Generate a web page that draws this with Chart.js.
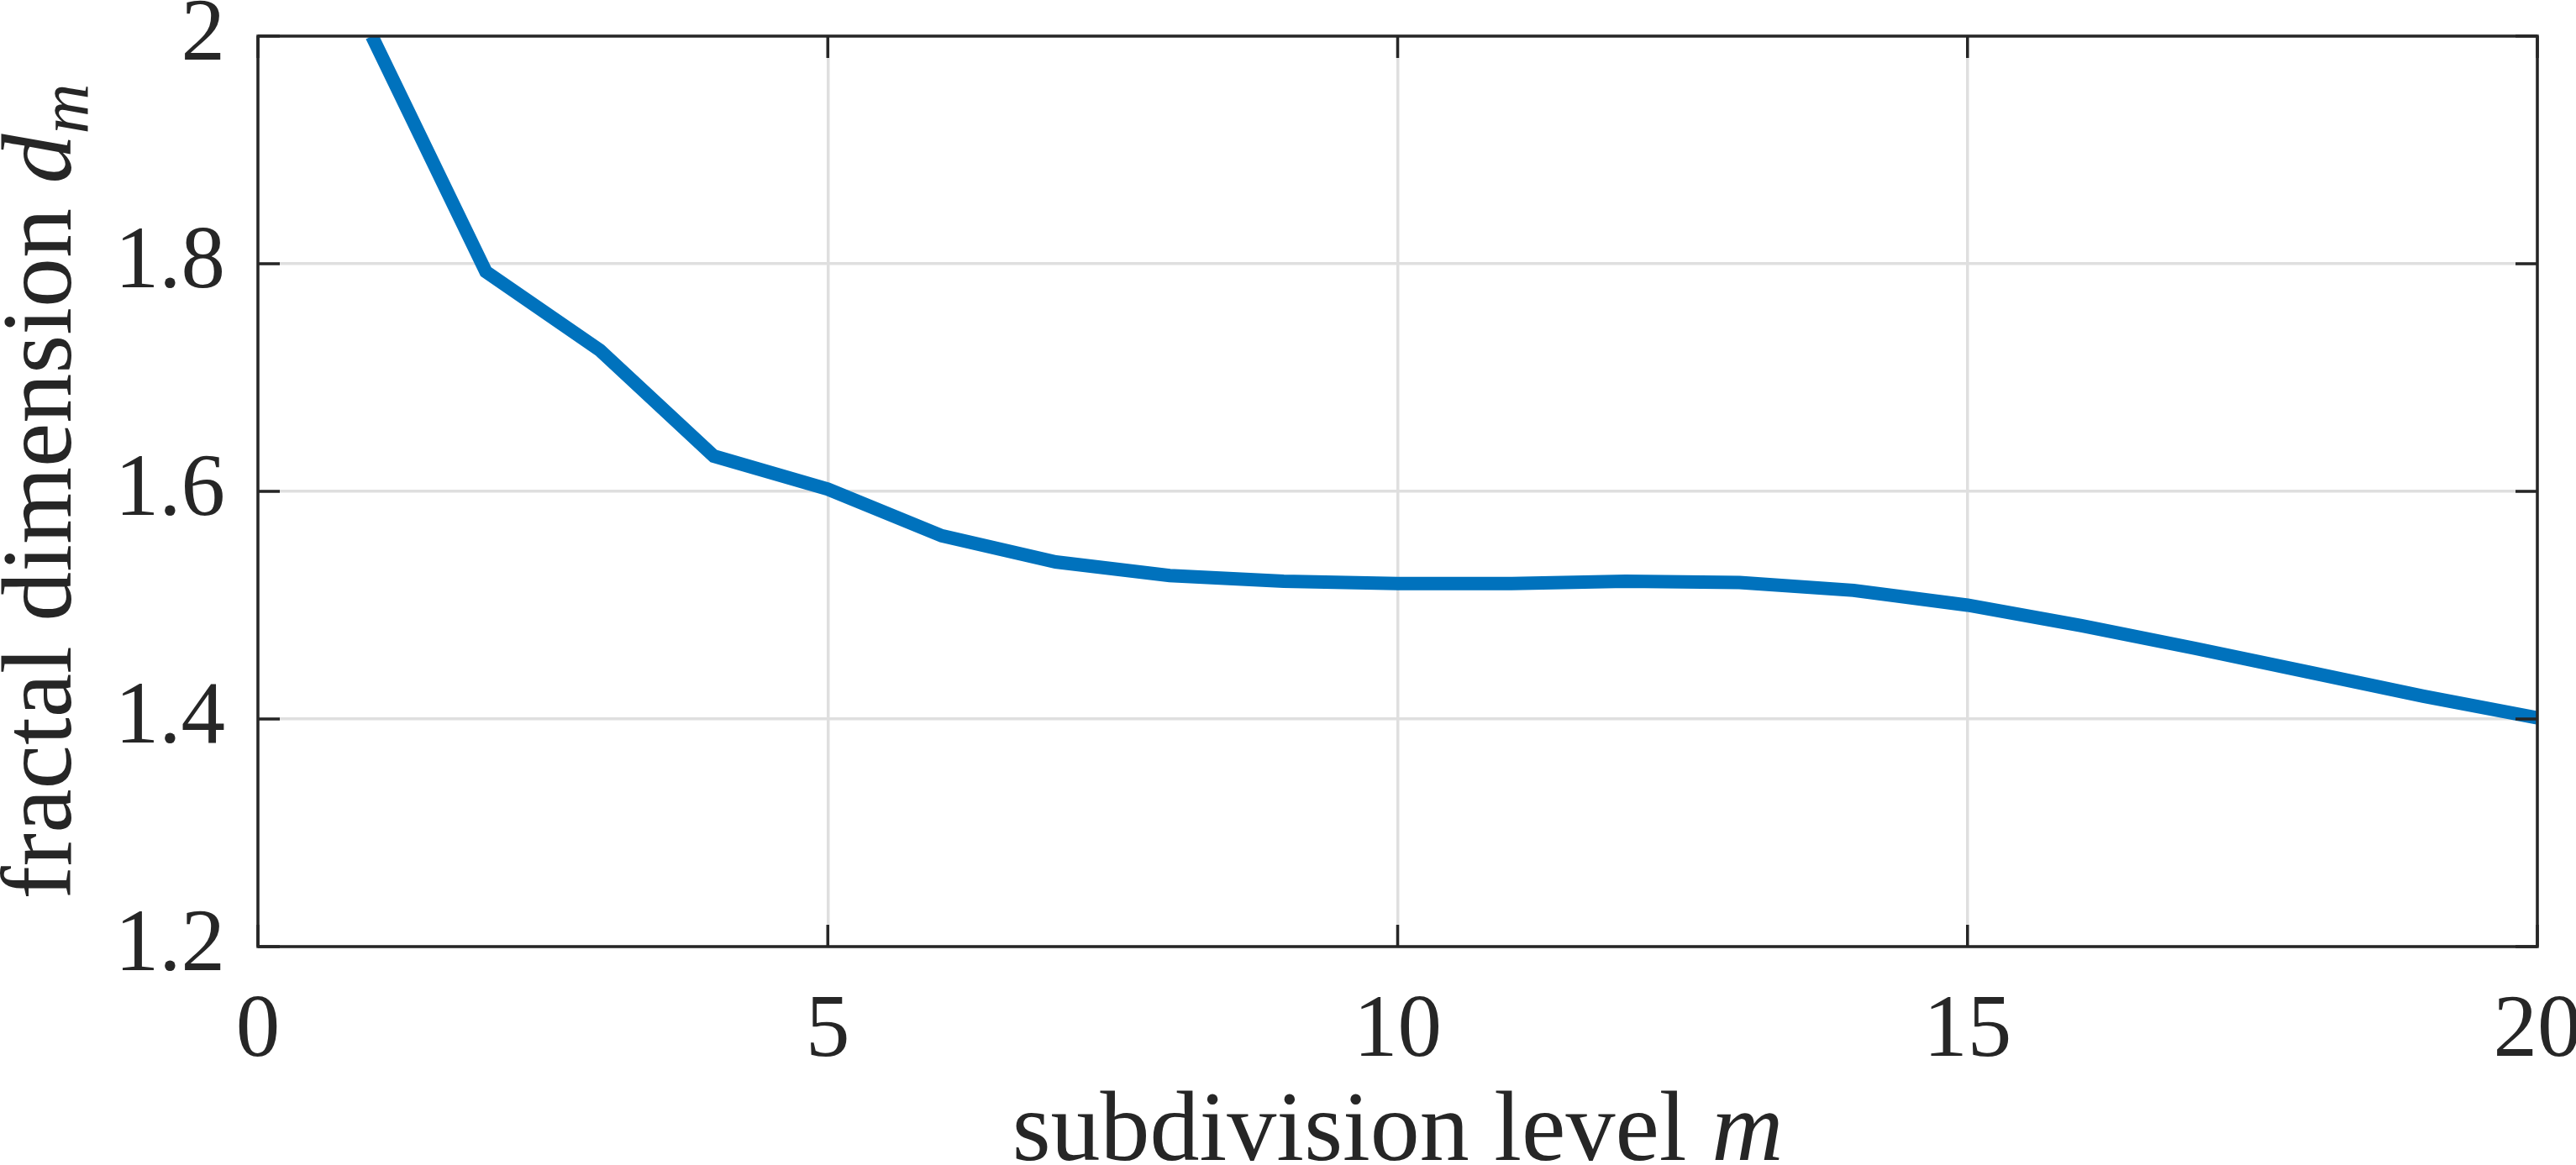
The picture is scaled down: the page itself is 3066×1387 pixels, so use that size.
<!DOCTYPE html>
<html>
<head>
<meta charset="utf-8">
<script src="https://cdn.jsdelivr.net/npm/chart.js@4.4.1/dist/chart.umd.min.js"></script>
<style>
  html, body { margin: 0; padding: 0; background: #ffffff; }
  #c { display: block; }
</style>
</head>
<body>
<canvas id="c" width="3066" height="1387" style="width:3066px;height:1387px"></canvas>
<script>
// ---- data ----
const levels = [1, 2, 3, 4, 5, 6, 7, 8, 9, 10, 11, 12, 13, 14, 15, 16, 17, 18, 19, 20];
const dimension = [2.000, 1.793, 1.724, 1.631, 1.602, 1.561, 1.538, 1.526, 1.521, 1.519,
                   1.519, 1.521, 1.520, 1.513, 1.500, 1.482, 1.462, 1.441, 1.420, 1.401];
const xTicks = [0, 5, 10, 15, 20];
const xTickLabels = ['0', '5', '10', '15', '20'];
const yTicks = [1.2, 1.4, 1.6, 1.8, 2.0];
const yTickLabels = ['1.2', '1.4', '1.6', '1.8', '2'];
const xTitle = 'subdivision level ';
const xTitleVar = 'm';
const yTitle = 'fractal dimension ';
const yTitleVar = 'd';
const yTitleSub = 'm';

const SERIF = "'Liberation Serif', 'DejaVu Serif', serif";
const AX = '#262626';
const GRID = '#dfdfdf';

const boxPlugin = {
  id: 'matlabBox',
  afterDraw(chart) {
    const ctx = chart.ctx;
    const a = chart.chartArea;
    const xs = chart.scales.x, ys = chart.scales.y;
    const tl = 26;
    ctx.save();
    ctx.strokeStyle = AX;
    ctx.lineWidth = 3.5;
    ctx.lineCap = 'butt';
    ctx.beginPath();
    xTicks.forEach(v => {
      const px = xs.getPixelForValue(v);
      ctx.moveTo(px, a.bottom); ctx.lineTo(px, a.bottom - tl);
      ctx.moveTo(px, a.top); ctx.lineTo(px, a.top + tl);
    });
    yTicks.forEach(v => {
      const py = ys.getPixelForValue(v);
      ctx.moveTo(a.left, py); ctx.lineTo(a.left + tl, py);
      ctx.moveTo(a.right, py); ctx.lineTo(a.right - tl, py);
    });
    ctx.stroke();
    ctx.strokeRect(a.left, a.top, a.right - a.left, a.bottom - a.top);

    // axis titles (mixed upright / italic text)
    ctx.fillStyle = AX;
    ctx.textBaseline = 'alphabetic';
    ctx.textAlign = 'left';
    const fs = 118;
    const fN = fs + 'px ' + SERIF;
    const fI = 'italic ' + fs + 'px ' + SERIF;
    // x title
    ctx.font = fN; const w1 = ctx.measureText(xTitle).width;
    ctx.font = fI; const w2 = ctx.measureText(xTitleVar).width;
    let x0 = (a.left + a.right) / 2 - (w1 + w2) / 2;
    const yb = 1381;
    ctx.font = fN; ctx.fillText(xTitle, x0, yb);
    ctx.font = fI; ctx.fillText(xTitleVar, x0 + w1, yb);
    // y title (rotated)
    const fsSub = Math.round(fs * 0.7);
    const fS = 'italic ' + fsSub + 'px ' + SERIF;
    ctx.font = fN; const v1 = ctx.measureText(yTitle).width;
    ctx.font = fI; const v2 = ctx.measureText(yTitleVar).width;
    ctx.font = fS; const v3 = ctx.measureText(yTitleSub).width;
    const total = v1 + v2 + v3;
    ctx.translate(84, (a.top + a.bottom) / 2);
    ctx.rotate(-Math.PI / 2);
    let sx = -total / 2;
    ctx.font = fN; ctx.fillText(yTitle, sx, 0);
    ctx.font = fI; ctx.fillText(yTitleVar, sx + v1, 0);
    ctx.font = fS; ctx.fillText(yTitleSub, sx + v1 + v2, fs * 0.17);
    ctx.restore();
  }
};

new Chart(document.getElementById('c'), {
  type: 'line',
  data: {
    datasets: [{
      data: levels.map((m, i) => ({ x: m, y: dimension[i] })),
      borderColor: '#0072BD',
      borderWidth: 16,
      pointRadius: 0,
      pointHoverRadius: 0,
      fill: false,
      tension: 0,
      borderJoinStyle: 'miter',
      borderCapStyle: 'butt',
      clip: 0
    }]
  },
  options: {
    responsive: false,
    devicePixelRatio: 1,
    animation: false,
    events: [],
    layout: { padding: { left: 0, top: 43, right: 46, bottom: 0 } },
    plugins: { legend: { display: false }, tooltip: { enabled: false }, title: { display: false } },
    scales: {
      x: {
        type: 'linear',
        min: 0, max: 20,
        afterBuildTicks: s => { s.ticks = xTicks.map(v => ({ value: v })); },
        afterFit: s => { s.height = 1387 - 1127; s.paddingLeft = 0; s.paddingRight = 0; },
        ticks: {
          autoSkip: false, maxRotation: 0,
          padding: 39,
          color: AX,
          font: { family: SERIF, size: 105 },
          callback: v => xTickLabels[xTicks.indexOf(v)]
        },
        grid: { color: GRID, lineWidth: 3.5, drawTicks: false },
        border: { display: false }
      },
      y: {
        type: 'linear',
        min: 1.2, max: 2.0,
        afterBuildTicks: s => { s.ticks = yTicks.map(v => ({ value: v })); },
        afterFit: s => { s.width = 307; s.paddingTop = 0; s.paddingBottom = 0; },
        ticks: {
          autoSkip: false,
          padding: 39,
          color: AX,
          font: { family: SERIF, size: 105 },
          callback: v => yTickLabels[yTicks.findIndex(t => Math.abs(t - v) < 1e-9)]
        },
        grid: { color: GRID, lineWidth: 3.5, drawTicks: false },
        border: { display: false }
      }
    }
  },
  plugins: [boxPlugin]
});
</script>
</body>
</html>
